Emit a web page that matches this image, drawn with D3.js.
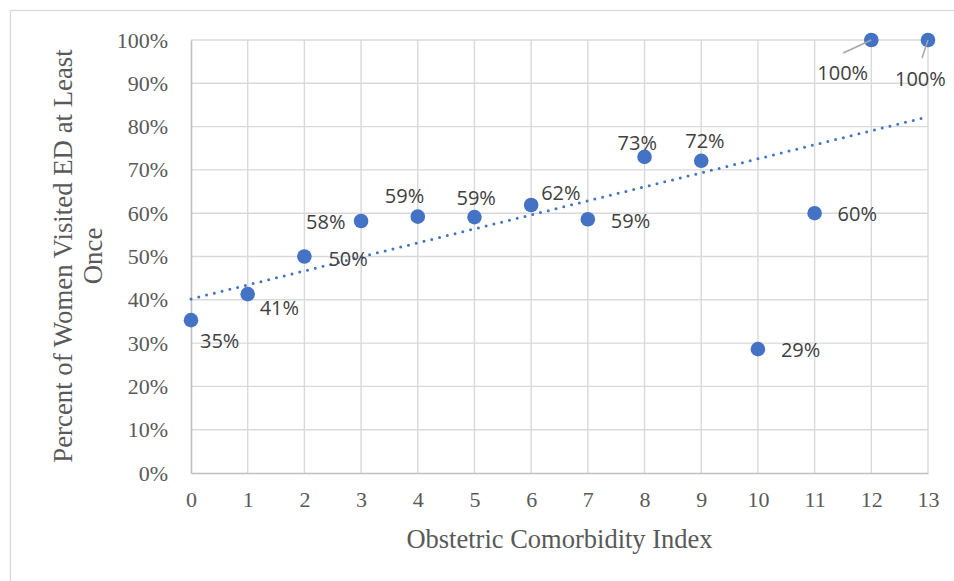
<!DOCTYPE html>
<html>
<head>
<meta charset="utf-8">
<script src="https://cdn.jsdelivr.net/npm/d3@7"></script>
<style>
  html, body { margin: 0; padding: 0; background: #fff; }
  svg { display: block; }
</style>
</head>
<body>
<svg id="chart" width="954" height="581"></svg>
<script>
// Obstetric comorbidity index (x) vs share of women with at least one ED visit (y)
const indexValues = [0, 1, 2, 3, 4, 5, 6, 7, 8, 9, 10, 11, 12, 13];
const visitShare = [0.353, 0.413, 0.50, 0.582, 0.592, 0.591, 0.619, 0.586, 0.730, 0.721, 0.286, 0.60, 1.00, 1.00];
const xTicks = [0, 1, 2, 3, 4, 5, 6, 7, 8, 9, 10, 11, 12, 13];
const yTicks = [0, 0.1, 0.2, 0.3, 0.4, 0.5, 0.6, 0.7, 0.8, 0.9, 1.0];

// Where each data label sits relative to its marker: [dx to text start, dy to text middle]
const labelOffsets = [
  [9, 21], [12, 14], [24, 2], [-55, 1], [-33, -21], [-18, -19],
  [10, -12], [23, 2], [-27, -14], [-16, -20], [23, 1], [23, 1], [-54, 33], [-33, 39]
];
// Leader lines for labels moved away from their markers: [x1 offset, y1 offset] from marker
const leaderOffsets = { 12: [-28, 13], 13: [-6, 18] };

const svg = d3.select("#chart");
const margin = { left: 191, right: 954 - 928, top: 40, bottom: 581 - 473 };

const x = d3.scaleLinear().domain([0, 13]).range([margin.left, 954 - margin.right]);
const y = d3.scaleLinear().domain([0, 1]).range([581 - margin.bottom, margin.top]);

const serif = "'Liberation Serif', 'Times New Roman', serif";

// Chart frame
svg.append("rect")
  .attr("x", 10.5).attr("y", 10.5)
  .attr("width", 980).attr("height", 620)
  .attr("fill", "#fff").attr("stroke", "#d9d9d9").attr("stroke-width", 1.3);

// Gridlines
const grid = svg.append("g").attr("stroke", "#d9d9d9").attr("stroke-width", 1.4);
grid.selectAll("line.h").data(yTicks.slice(1)).join("line")
  .attr("x1", x(0)).attr("x2", x(13))
  .attr("y1", d => y(d)).attr("y2", d => y(d));
grid.selectAll("line.v").data(xTicks.slice(1)).join("line")
  .attr("x1", d => x(d)).attr("x2", d => x(d))
  .attr("y1", y(0)).attr("y2", y(1));

// Axes
const yAxis = svg.append("g")
  .attr("transform", `translate(${x(0)},0)`)
  .call(d3.axisLeft(y).tickValues(yTicks).tickFormat(d3.format(".0%")).tickSize(0).tickPadding(23));
const xAxis = svg.append("g")
  .attr("transform", `translate(0,${y(0)})`)
  .call(d3.axisBottom(x).tickValues(xTicks).tickFormat(d3.format("d")).tickSize(0).tickPadding(18));
[yAxis, xAxis].forEach(g => {
  g.select(".domain").attr("stroke", "#bfbfbf").attr("stroke-width", 1.6);
  g.selectAll("text")
    .attr("fill", "#595959")
    .style("font-family", serif)
    .style("font-size", "22px");
});

// Axis titles
svg.append("text")
  .attr("x", (x(0) + x(13)) / 2).attr("y", 548)
  .attr("text-anchor", "middle")
  .attr("fill", "#595959")
  .style("font-family", serif).style("font-size", "26.5px")
  .text("Obstetric Comorbidity Index");

const yTitle = svg.append("text")
  .attr("transform", "translate(0,256) rotate(-90)")
  .attr("text-anchor", "middle")
  .attr("fill", "#595959")
  .style("font-family", serif).style("font-size", "26.8px");
yTitle.append("tspan").attr("x", 0).attr("y", 72).text("Percent of Women Visited ED at Least");
yTitle.append("tspan").attr("x", 0).attr("y", 102).text("Once");

// Linear trendline (least squares)
const mx = d3.mean(indexValues), my = d3.mean(visitShare);
const sxy = d3.sum(indexValues, (v, i) => (v - mx) * (visitShare[i] - my));
const sxx = d3.sum(indexValues, v => (v - mx) * (v - mx));
const slope = sxy / sxx, intercept = my - slope * mx;
svg.append("line")
  .attr("x1", x(0)).attr("y1", y(intercept))
  .attr("x2", x(13)).attr("y2", y(intercept + slope * 13))
  .attr("stroke", "#4472c4").attr("stroke-width", 3)
  .attr("stroke-linecap", "round")
  .attr("stroke-dasharray", "0 8");

// Points
const pts = indexValues.map((v, i) => ({ x: v, y: visitShare[i], i }));
svg.append("g").selectAll("circle").data(pts).join("circle")
  .attr("cx", d => x(d.x)).attr("cy", d => y(d.y))
  .attr("r", 7.3).attr("fill", "#4472c4");

// Leader lines
svg.append("g").selectAll("line").data(pts.filter(d => leaderOffsets[d.i])).join("line")
  .attr("x1", d => x(d.x) + leaderOffsets[d.i][0]).attr("y1", d => y(d.y) + leaderOffsets[d.i][1])
  .attr("x2", d => x(d.x)).attr("y2", d => y(d.y))
  .attr("stroke", "#a6a6a6").attr("stroke-width", 1.5);

// Data labels
svg.append("g").selectAll("text").data(pts).join("text")
  .attr("x", d => x(d.x) + labelOffsets[d.i][0])
  .attr("y", d => y(d.y) + labelOffsets[d.i][1])
  .attr("dy", "0.35em")
  .attr("fill", "#404040")
  .style("font-family", "'Open Sans', 'Noto Sans', sans-serif")
  .style("font-size", "20px")
  .text(d => d3.format(".0%")(d.y));
</script>
</body>
</html>
